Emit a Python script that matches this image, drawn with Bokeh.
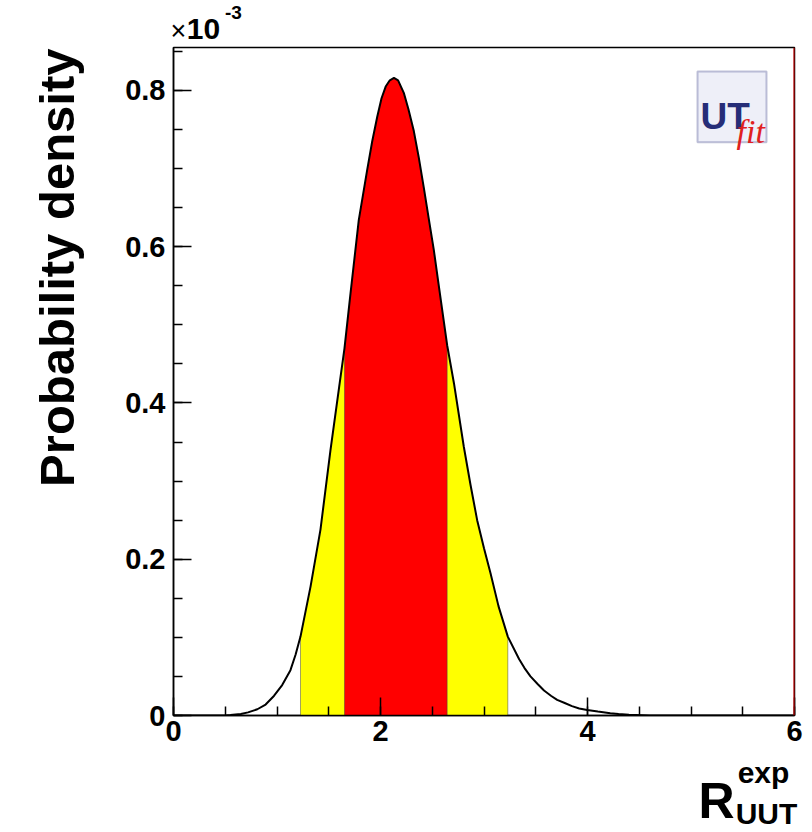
import numpy as np
from bokeh.plotting import figure
from bokeh.models import FixedTicker, Label, Span, BoxAnnotation, Range1d, LinearAxis
from bokeh.embed import file_html
from bokeh.resources import INLINE

# ---- data (probability density, units of 1e-3) ----
r_values = [0.0, 0.5, 0.55, 0.65, 0.72, 0.81, 0.89, 0.97, 1.05, 1.13, 1.18,
            1.227, 1.324, 1.42, 1.517, 1.6, 1.652, 1.71, 1.79, 1.871, 1.92,
            1.968, 2.01, 2.05, 2.09, 2.13, 2.17, 2.225, 2.27, 2.322, 2.37,
            2.418, 2.465, 2.515, 2.56, 2.61, 2.644, 2.71, 2.805, 2.87, 2.934,
            3.0, 3.063, 3.14, 3.23, 3.34, 3.39, 3.449, 3.52, 3.58, 3.65,
            3.707, 3.78, 3.85, 3.92, 3.997, 4.1, 4.22, 4.3, 4.4, 4.6, 6.0]
density = [0.0, 0.0, 0.0005, 0.002, 0.004, 0.008, 0.014, 0.025, 0.039, 0.058, 0.078,
           0.101, 0.165, 0.238, 0.340, 0.420, 0.470, 0.540, 0.634, 0.698, 0.735,
           0.766, 0.790, 0.805, 0.813, 0.816, 0.813, 0.797, 0.776, 0.748, 0.714,
           0.676, 0.637, 0.596, 0.553, 0.506, 0.474, 0.425, 0.344, 0.295, 0.250,
           0.214, 0.182, 0.140, 0.101, 0.072, 0.061, 0.050, 0.040, 0.032, 0.025,
           0.020, 0.016, 0.012, 0.009, 0.007, 0.005, 0.003, 0.002, 0.001, 0.0, 0.0]
band95 = (1.227, 3.23)
band68 = (1.652, 2.644)
x_ticks = [0, 2, 4, 6]
x_tick_labels = ["0", "2", "4", "6"]
y_ticks = [0, 0.2, 0.4, 0.6, 0.8]
y_tick_labels = ["0", "0.2", "0.4", "0.6", "0.8"]
y_title = "Probability density"
x_title = ("R", "exp", "UUT")
y_multiplier = ("\u00d7", "10", "-3")

X0, X1 = 0.0, 6.0
Y0, Y1 = 0.0, 0.855
W, H = 812, 832
L, R, T, B = 173, 18, 47, 116
FW, FH = W - L - R, H - T - B

def fx(px):
    return round(X0 + (px - L) / FW * (X1 - X0), 4)

def fy(py):
    return round(Y0 + (H - B - py) / FH * (Y1 - Y0), 4)

FONT = "Liberation Sans"

p = figure(width=W, height=H, x_range=Range1d(X0, X1), y_range=Range1d(Y0, Y1),
           output_backend="svg", toolbar_location=None,
           min_border_left=L, min_border_right=R, min_border_top=T, min_border_bottom=B)
p.grid.visible = False
p.background_fill_color = "white"
p.border_fill_color = "white"
p.outline_line_color = "black"
p.outline_line_width = 1.5

xs = np.array(r_values)
ys = np.array(density)
m95 = (xs >= band95[0]) & (xs <= band95[1])
m68 = (xs >= band68[0]) & (xs <= band68[1])
p.varea(x=xs[m95], y1=0, y2=ys[m95], fill_color="#ffff00")
p.varea(x=xs[m68], y1=0, y2=ys[m68], fill_color="#ff0000")

edge_mask = np.isin(xs, list(band95) + list(band68))
p.segment(x0=xs[edge_mask], y0=0, x1=xs[edge_mask], y1=ys[edge_mask],
          line_color="#444444", line_width=1, line_dash="1 1")

p.line(xs, ys, line_color="black", line_width=2)

p.add_layout(Span(location=X1, dimension="height", line_color="#e00000", line_width=2))

# main axes
p.xaxis.ticker = FixedTicker(ticks=x_ticks, minor_ticks=list(np.arange(0, 6.01, 0.5)))
p.yaxis.ticker = FixedTicker(ticks=y_ticks, minor_ticks=list(np.arange(0, 0.851, 0.05)))
p.xaxis.major_label_overrides = {t: s for t, s in zip(x_ticks, x_tick_labels)}
p.yaxis.major_label_overrides = {t: s for t, s in zip(y_ticks, y_tick_labels)}
for ax in (p.xaxis[0], p.yaxis[0]):
    ax.axis_line_color = "black"
    ax.axis_line_width = 1.5
    ax.major_tick_line_color = "black"
    ax.major_tick_line_width = 1.5
    ax.minor_tick_line_color = "black"
    ax.minor_tick_line_width = 1.5
    ax.major_tick_in = 18
    ax.major_tick_out = 0
    ax.minor_tick_in = 9
    ax.minor_tick_out = 0
    ax.major_label_text_font = FONT
    ax.major_label_text_font_style = "bold"
    ax.major_label_text_font_size = "29px"
    ax.major_label_text_color = "black"
p.yaxis.major_label_standoff = 8
p.xaxis.major_label_standoff = 5


def text_axis(side, pos, text, size, standoff, style="bold", orientation="horizontal"):
    """An axis without line or ticks whose single tick label carries a title piece."""
    ax = LinearAxis(ticker=FixedTicker(ticks=[pos], minor_ticks=[]),
                    major_label_overrides={pos: text})
    ax.axis_line_color = None
    ax.major_tick_line_color = None
    ax.minor_tick_line_color = None
    ax.major_tick_in = 0
    ax.major_tick_out = 0
    ax.minor_tick_in = 0
    ax.minor_tick_out = 0
    ax.major_label_standoff = standoff
    ax.major_label_text_font = FONT
    ax.major_label_text_font_style = style
    ax.major_label_text_font_size = f"{size}px"
    ax.major_label_text_color = "black"
    ax.major_label_orientation = orientation
    p.add_layout(ax, side)


# y title (vertical, reading upwards, top-aligned as ROOT draws it)
text_axis("left", fy(48), y_title, 49, 65, orientation=np.pi / 2)

# x title: R^{exp}_{UUT}
text_axis("below", fx(763), x_title[1], 30, 12)
text_axis("below", fx(716), x_title[0], 50, -19)
text_axis("below", fx(766), x_title[2], 30, -35)

# x10^-3 multiplier above the frame
text_axis("above", fx(203), y_multiplier[1], 30, 9)
text_axis("above", fx(233), y_multiplier[2], 19, -3)
text_axis("above", fx(178), y_multiplier[0], 27, -43, style="normal")

# UTfit logo
p.add_layout(BoxAnnotation(left=fx(697), right=fx(766), top=fy(71), bottom=fy(142),
                           fill_color="#eeeff8", fill_alpha=1.0,
                           line_color="#2d3580", line_width=2))
p.add_layout(Label(x=fx(700), y=fy(116), text="UT", text_align="left",
                   text_baseline="alphabetic", text_font=FONT, text_font_style="bold",
                   text_font_size="37px", text_color="#262d78"))
p.add_layout(Label(x=fx(736), y=fy(131), text="fit", text_align="left",
                   text_baseline="alphabetic", text_font="Liberation Serif",
                   text_font_style="italic", text_font_size="34px", text_color="#e02020"))

open("out.html", "w").write(file_html(p, INLINE))
